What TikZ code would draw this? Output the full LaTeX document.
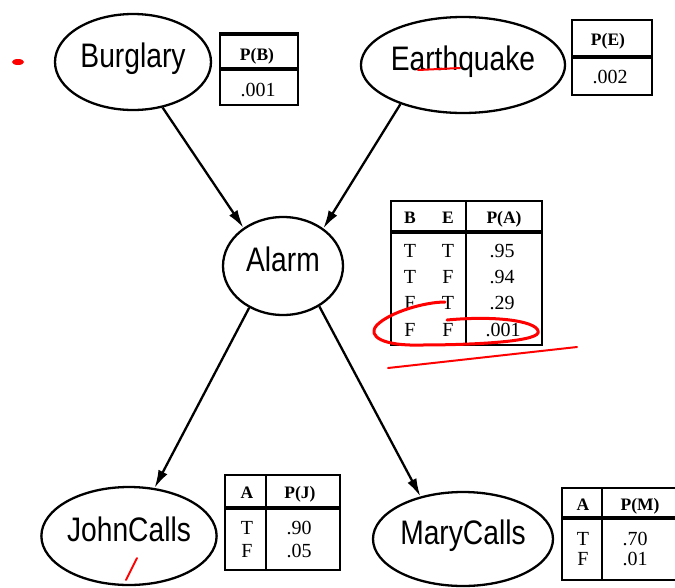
\documentclass[tikz,border=0pt]{standalone}
\usepackage{fontspec}
\setmainfont{Liberation Serif}
\newfontfamily\varfont[FakeStretch=0.83]{Liberation Sans}
\usetikzlibrary{arrows.meta,shapes.geometric}

\begin{document}
\begin{tikzpicture}[x=1pt,y=-1pt,
  var/.style={draw, line width=2.3pt, ellipse, inner sep=0pt,
    text height=24pt, text depth=14pt,
    font=\varfont\fontsize{34}{34}\selectfont},
  link/.style={line width=2.3pt, -{Latex[length=18pt,width=10pt]}},
  frame/.style={line width=2.2pt},
  rule/.style={line width=3.8pt},
  head/.style={anchor=base, inner sep=0pt, font=\bfseries\fontsize{17.5}{17.5}\selectfont},
  cell/.style={anchor=base, inner sep=0pt, font=\fontsize{20}{20}\selectfont},
  annot/.style={draw=red, line width=3pt, line cap=round, line join=round}]

\fill[white] (0,0) rectangle (675,587);
\useasboundingbox (0,0) rectangle (675,587);

% variables of the network
\node[var, minimum width=156pt, minimum height=96pt] (burglary) at (133,62) {Burglary};
\node[var, minimum width=196pt, minimum height=96pt] (earthquake) at (463,65) {Earthquake};
\node[var, minimum width=120pt, minimum height=98pt] (alarm) at (283,266) {Alarm};
\node[var, minimum width=174pt, minimum height=98pt] (john) at (129,536) {JohnCalls};
\node[var, minimum width=180pt, minimum height=94pt] (mary) at (463,539) {MaryCalls};

% dependencies
\draw[link] (burglary.-57) -- (alarm.136);
\draw[link] (earthquake.-148) -- (alarm.43);
\draw[link] (alarm.-129) -- (john.62);
\draw[link] (alarm.-48) -- (mary.135);

% table P(B)
\draw[frame] (220,33) rectangle (298,105);
\draw[rule] (220,34) -- (298,34);
\draw[rule] (220,69) -- (298,69);
\node[head] (pbh) at (257,60) {P(B)};
\node[cell] (pbv) at (258,96) {.001};

% table P(E)
\draw[frame] (572,20) rectangle (652,95);
\draw[rule] (572,57) -- (652,57);
\node[head] (peh) at (608,45) {P(E)};
\node[cell] (pev) at (610,83) {.002};

% table P(A | B, E)
\draw[frame] (391,201) rectangle (542,345);
\draw[rule] (391,232) -- (542,232);
\draw[frame] (466,201) -- (466,345);
\node[head] (pah1) at (410,223) {B};
\node[head] (pah2) at (448,223) {E};
\node[head] (pah3) at (504,223) {P(A)};
\node[cell] (pa11) at (410,257) {T};
\node[cell] (pa12) at (448,257) {T};
\node[cell] (pa13) at (502,257) {.95};
\node[cell] (pa21) at (410,283) {T};
\node[cell] (pa22) at (448,283) {F};
\node[cell] (pa23) at (502,283) {.94};
\node[cell] (pa31) at (410,309) {F};
\node[cell] (pa32) at (448,309) {T};
\node[cell] (pa33) at (502,309) {.29};
\node[cell] (pa41) at (410,336) {F};
\node[cell] (pa42) at (448,336) {F};
\node[cell] (pa43) at (503,336) {.001};

% table P(J | A)
\draw[frame] (225,475) rectangle (340,570);
\draw[rule] (225,508) -- (340,508);
\draw[frame] (266,475) -- (266,570);
\node[head] (pjh1) at (247,498) {A};
\node[head] (pjh2) at (300,498) {P(J)};
\node[cell] (pj11) at (247,534) {T};
\node[cell] (pj12) at (299,534) {.90};
\node[cell] (pj21) at (247,557) {F};
\node[cell] (pj22) at (299,557) {.05};

% table P(M | A)
\draw[frame] (562,488) rectangle (690,580);
\draw[rule] (562,518) -- (690,518);
\draw[frame] (602,488) -- (602,580);
\node[head] (pmh1) at (583,510) {A};
\node[head] (pmh2) at (640,510) {P(M)};
\node[cell] (pm11) at (583,545) {T};
\node[cell] (pm12) at (635,545) {.70};
\node[cell] (pm21) at (583,565) {F};
\node[cell] (pm22) at (635,565) {.01};

% red pen marks
\fill[red] (18,62) ellipse [x radius=6pt, y radius=3pt];
\draw[annot, line width=2pt] (418,70) -- (460,68);
\draw[annot, line width=1.8pt] (137,558) -- (126,580);
\draw[annot] (445,302) .. controls (425,302) and (390,312) .. (377,325)
  .. controls (366,337) and (385,346) .. (420,345)
  .. controls (470,345) and (534,342) .. (538,333)
  .. controls (541,322) and (500,315) .. (447,320);
\draw[annot, line width=2pt] (388,368) -- (577,347);
\end{tikzpicture}
\end{document}
